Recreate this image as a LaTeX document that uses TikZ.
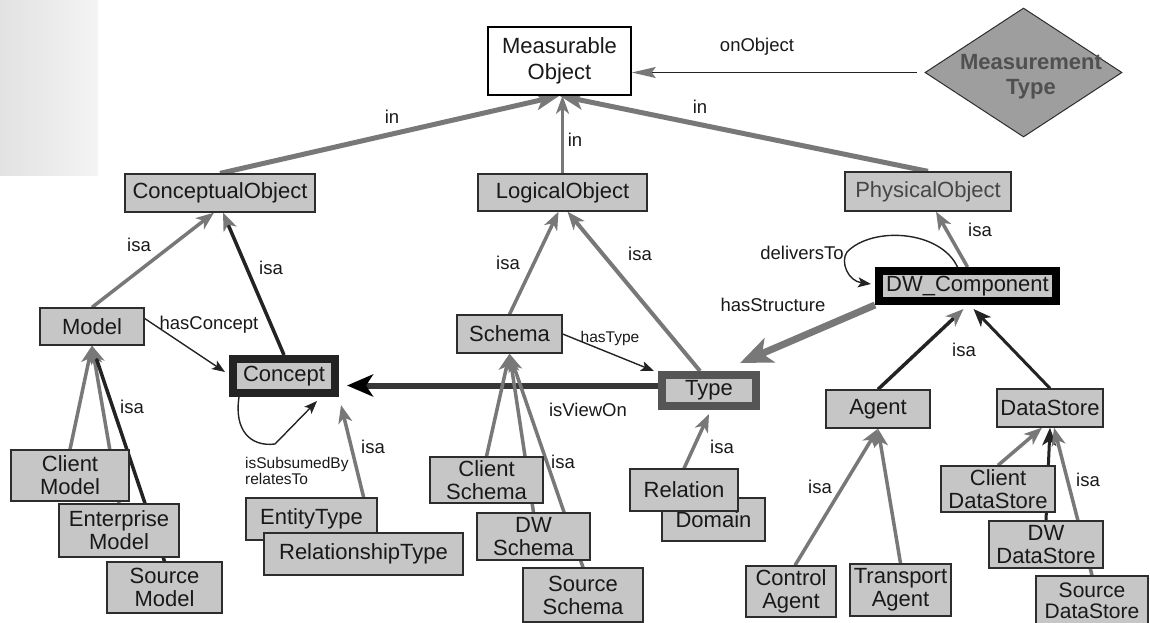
\documentclass[tikz,border=0pt]{standalone}
\usepackage{fontspec}
\setmainfont{Liberation Sans}
\usetikzlibrary{arrows.meta,shapes.geometric,backgrounds,calc}

\definecolor{boxfill}{RGB}{198,198,198}
\definecolor{boxline}{RGB}{45,45,45}
\definecolor{linegray}{RGB}{120,120,120}
\definecolor{darkline}{RGB}{35,35,35}
\definecolor{viewline}{RGB}{55,55,55}
\definecolor{txt}{RGB}{25,25,25}
\definecolor{phys}{RGB}{70,70,70}
\definecolor{diamfill}{RGB}{158,158,158}
\definecolor{diamtxt}{RGB}{80,80,80}
\definecolor{typeline}{RGB}{85,85,85}
\definecolor{scanl}{RGB}{226,226,226}
\definecolor{scanr}{RGB}{244,244,244}

\newcommand\boxfont{\fontsize{22}{23}\selectfont}
\newcommand\lblfont{\fontsize{18.5}{20}\selectfont}
\newcommand\smallfont{\fontsize{15.5}{14}\selectfont}

\tikzset{
 box/.style={rectangle, draw=boxline, fill=boxfill, line width=1.3pt, inner sep=0pt, font=\boxfont, align=center, text=txt},
 heavybox/.style={box, line width=8pt},
 lbl/.style={font=\lblfont, text=txt, inner sep=0pt},
 slbl/.style={font=\smallfont, text=txt, inner sep=0pt},
 isa/.style={draw=linegray, line width=3.5pt, -{Stealth[length=18pt,width=14pt,inset=5pt,color=linegray]}},
 isablack/.style={draw=darkline, line width=3pt, -{Stealth[length=18pt,width=14pt,inset=5pt,color=darkline]}},
 inarrow/.style={draw=linegray, line width=5pt, -{Stealth[length=24pt,width=18pt,inset=6pt,color=linegray]}},
 thinrel/.style={draw=darkline, line width=1.4pt, -{Stealth[length=13pt,width=10pt,inset=3pt,color=darkline]}},
}

\begin{document}
\begin{tikzpicture}[x=1pt,y=-1pt]
\useasboundingbox (0,0) rectangle (1150,623);

% ---------- nodes ----------
\node[box, fill=white, draw=black, line width=1.5pt, minimum width=143pt, minimum height=68pt, font=\fontsize{22}{26}\selectfont] (mo) at (559.5,61) {Measurable\\Object};
\node[diamond, draw=boxline, line width=1pt, fill=diamfill, minimum width=197pt, minimum height=129pt, inner sep=0pt] (mt) at (1023.5,72.5) {};
\node[font=\bfseries\fontsize{22}{25}\selectfont, text=diamtxt, align=center, inner sep=0pt] (mtl) at (1031,77) {Measurement\\Type};

\node[box, minimum width=190pt, minimum height=38pt] (co) at (220,193) {ConceptualObject};
\node[box, minimum width=169pt, minimum height=37pt] (lo) at (562.5,192.5) {LogicalObject};
\node[box, minimum width=166pt, minimum height=39pt, text=phys] (po) at (928,191.5) {PhysicalObject};
\node[box, minimum width=104pt, minimum height=37pt] (model) at (92,326.5) {Model};
\node[heavybox, draw=darkline, minimum width=102pt, minimum height=34pt] (concept) at (284,376) {Concept};
\node[box, minimum width=105pt, minimum height=38pt] (schema) at (509.5,334) {Schema};
\node[heavybox, draw=typeline, minimum width=94pt, minimum height=31pt] (type) at (709,390.5) {Type};
\node[heavybox, draw=black, minimum width=177pt, minimum height=30pt] (dwc) at (967.5,286) {DW\_Component};
\node[box, minimum width=104pt, minimum height=38pt] (agent) at (878,409) {Agent};
\node[box, minimum width=106pt, minimum height=38pt] (ds) at (1050,408) {DataStore};
\node[box, minimum width=118pt, minimum height=51pt] (cm) at (70,475.5) {Client\\Model};
\node[box, minimum width=120pt, minimum height=53pt] (em) at (119,530.5) {Enterprise\\Model};
\node[box, minimum width=115pt, minimum height=51pt] (sm) at (164.5,587.5) {Source\\Model};
\node[box, minimum width=131pt, minimum height=42pt] (et) at (311.5,519) {EntityType};
\node[box, minimum width=199pt, minimum height=42pt] (rt) at (363.5,554) {RelationshipType};
\node[box, minimum width=113pt, minimum height=46pt] (cs) at (486.5,480) {Client\\Schema};
\node[box, minimum width=113pt, minimum height=47pt] (dws) at (533.5,536.5) {DW\\Schema};
\node[box, minimum width=120pt, minimum height=54pt] (ss) at (583,595) {Source\\Schema};
\node[box, minimum width=103pt, minimum height=43pt] (dom) at (713.5,519.5) {Domain};
\node[box, minimum width=108pt, minimum height=42pt] (rel) at (684,490) {Relation};
\node[box, minimum width=90pt, minimum height=51pt] (ca) at (791,591.5) {Control\\Agent};
\node[box, minimum width=101pt, minimum height=52pt] (ta) at (900.5,590) {Transport\\Agent};
\node[box, minimum width=114pt, minimum height=46pt] (cds) at (998,489) {Client\\DataStore};
\node[box, minimum width=114pt, minimum height=47pt] (dds) at (1046,544.5) {DW\\DataStore};
\node[box, minimum width=112pt, minimum height=50pt, font=\fontsize{21}{21}\selectfont] (sds) at (1092,601) {Source\\DataStore};

% ---------- labels ----------
\node[lbl] (l1) at (392,117) {in};
\node[lbl] (l2) at (575,140) {in};
\node[lbl] (l3) at (700,107) {in};
\node[lbl] (l4) at (757,47) {onObject};
\node[lbl] (l5) at (139,245) {isa};
\node[lbl] (l6) at (271,268) {isa};
\node[lbl] (l7) at (508,263) {isa};
\node[lbl] (l8) at (640,254) {isa};
\node[lbl] (l9) at (980,230) {isa};
\node[lbl] (l10) at (802,253) {deliversTo};
\node[lbl] (l11) at (773,305) {hasStructure};
\node[lbl] (l12) at (209,325) {hasConcept};
\node[slbl] (l13) at (610,338) {hasType};
\node[lbl] (l14) at (588,410) {isViewOn};
\node[lbl] (l15) at (132,407) {isa};
\node[slbl, align=left, anchor=west] (l16) at (245,471) {isSubsumedBy\\relatesTo};
\node[lbl] (l17) at (373,447) {isa};
\node[lbl] (l18) at (563,462) {isa};
\node[lbl] (l19) at (722,447) {isa};
\node[lbl] (l20) at (964,350) {isa};
\node[lbl] (l21) at (820,487) {isa};
\node[lbl] (l22) at (1088,480) {isa};

% ---------- connectors ----------
\begin{pgfonlayer}{background}
\shade[left color=scanl, right color=scanr] (0,0) rectangle (98,175);

\draw[inarrow] (co.north) -- (mo.south);
\draw[draw=linegray, line width=3pt, -{Stealth[length=18pt,width=13pt,inset=5pt,color=linegray]}] (lo.north) -- (lo.north |- mo.south);
\draw[inarrow] (po.north) -- (mo.south);
\draw[thinrel, shorten <=8pt, -{Stealth[length=24pt,width=11pt,inset=4pt,color=linegray]}] (mt.west) -- (mt.west -| mo.east);

\draw[isa] (model.north) -- ([xshift=-6pt]co.south);
\draw[isa, draw=darkline] (concept.north) -- ([xshift=3pt]co.south);
\draw[thinrel] ([yshift=8pt]model.east) -- ([yshift=4pt,xshift=-4pt]concept.west);
\coordinate (lp) at (275,444);
\draw[thinrel] ([xshift=10pt]concept.south west) .. controls (234,430) and (250,447) .. (lp) -- ([xshift=-22pt,yshift=-4pt]concept.south east);
\draw[isa] ([xshift=-14pt]et.north east) -- ([xshift=2pt,yshift=-8pt]concept.south east);

\draw[isa] (cm.north) -- (model.south);
\draw[isa] (em.north) -- (model.south);
\draw[isa, draw=darkline] (sm.north) -- (model.south);

\draw[isa] (schema.north) -- ([xshift=-4pt]lo.south);
\draw[isa, line width=4pt] ([xshift=-9pt]type.north) -- ([xshift=5pt]lo.south);
\draw[thinrel] (schema.east) -- ([xshift=-4pt]type.north west);
\draw[draw=viewline, line width=6pt, -{Stealth[length=26pt,width=22pt,inset=7pt,color=black]}] ([yshift=5pt]type.west) -- ($(concept.east |- type.west)+(8,-5)$);

\draw[isa] (cs.north) -- (schema.south);
\draw[isa] (dws.north) -- (schema.south);
\draw[isa] (ss.north) -- (schema.south);
\draw[isa] (rel.north) -- ([yshift=-4pt]type.south);

\draw[draw=linegray, line width=7pt, -{Stealth[length=32pt,width=26pt,inset=8pt,color=linegray]}] (dwc.south west) -- ([xshift=-20pt,yshift=8pt]type.north east);
\draw[isa] (dwc.north) -- ([xshift=8pt]po.south);
\coordinate (dl) at (847,252);
\draw[thinrel] ([xshift=-10pt]dwc.north) .. controls (940,230) and (872,226) .. (dl) .. controls (840,262) and (848,281) .. ([xshift=-4pt,yshift=2pt]dwc.west);

\draw[isa, draw=darkline] (agent.north) -- ([xshift=-4pt,yshift=-4pt]dwc.south);
\draw[isablack] (ds.north) -- ([xshift=6pt,yshift=-4pt]dwc.south);
\draw[isa] ([xshift=4pt]ca.north) -- (agent.south);
\draw[isa] (ta.north) -- (agent.south);
\draw[isa] (cds.north) -- ([xshift=-8pt]ds.south);
\draw[isablack] (dds.north) -- (ds.south);
\draw[isa] (sds.north) -- ([xshift=4pt]ds.south);
\end{pgfonlayer}
\end{tikzpicture}
\end{document}
